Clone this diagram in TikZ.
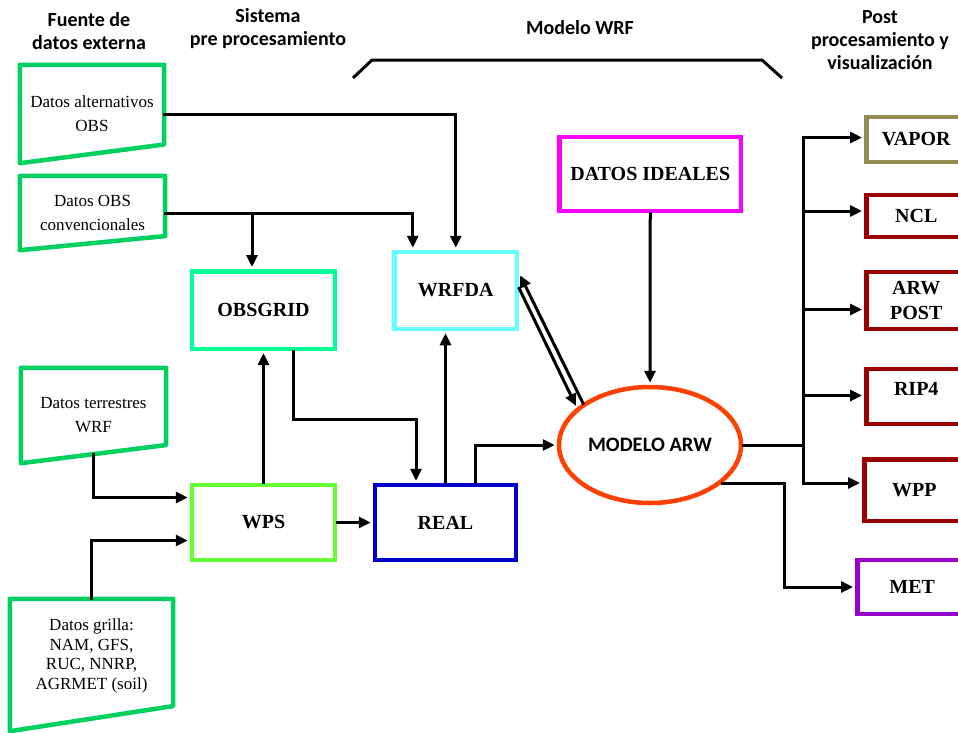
\documentclass[tikz,border=0pt]{standalone}
\usepackage{fontspec}
\setmainfont{Liberation Serif}
\newfontfamily\headfont{Carlito}
\usetikzlibrary{arrows.meta,calc,shapes.geometric}

\definecolor{srcgreen}{RGB}{0,208,96}
\definecolor{obsgreen}{RGB}{0,255,150}
\definecolor{wrfcyan}{RGB}{102,255,255}
\definecolor{wpsgreen}{RGB}{102,255,51}
\definecolor{realblue}{RGB}{0,0,204}
\definecolor{idealmag}{RGB}{255,0,255}
\definecolor{arwred}{RGB}{255,64,0}
\definecolor{vaporolive}{RGB}{148,138,84}
\definecolor{postred}{RGB}{153,0,0}
\definecolor{metpurple}{RGB}{153,0,204}

\begin{document}
\begin{tikzpicture}[
  x=1pt, y=-1pt,
  head/.style={font=\headfont\bfseries\fontsize{20}{23}\selectfont, align=center},
  src/.style={inner sep=0pt, align=center, font=\fontsize{17}{24}\selectfont},
  srcline/.style={draw=srcgreen, line width=4.5pt, line join=round},
  proc/.style={rectangle, draw=#1, line width=4.5pt, inner sep=0pt, align=center,
               font=\bfseries\fontsize{20}{25}\selectfont},
  post/.style={proc=#1, anchor=west, text width=100pt},
  link/.style={draw=black, line width=3pt, line cap=rect},
  arrow/.style={link, -{Triangle[length=12pt, width=11pt]}, shorten >=2pt},
]
\useasboundingbox (0,0) rectangle (958,732);

% ---- column headings ----
\node[head] (fuente)  at (89,31)  {Fuente de\\datos externa};
\node[head] (sistema) at (268,29) {Sistema\\pre procesamiento};
\node[head] (modelo)  at (580,28) {Modelo WRF};
\node[head] (postpro) at (880,40) {Post\\procesamiento y\\visualizaci\'on};
\draw[link, line cap=butt] (353,78) -- (372,60) -- (762,60) -- (782,78);

% ---- external data sources ----
\node[src, minimum width=144pt, minimum height=98pt] (alt) at (92,114)
      {Datos alternativos\\OBS};
\node[src, minimum width=145pt, minimum height=74pt] (conv) at (92.5,213)
      {Datos OBS\\convencionales};
\node[src, minimum width=145pt, minimum height=95pt] (terr) at (93.5,415.5)
      {Datos terrestres\\WRF};
\node[src, minimum width=163pt, minimum height=132pt, text depth=22pt,
      font=\fontsize{17}{19.5}\selectfont] (grilla) at (91.5,665)
      {Datos grilla:\\NAM, GFS,\\RUC, NNRP,\\AGRMET (soil)};
\foreach \n in {alt,conv,terr,grilla}
  \draw[srcline] (\n.north west) -- (\n.north east)
    -- ($(\n.south east)!0.19!(\n.north east)$) -- (\n.south west) -- cycle;

% ---- pre processing and model ----
\node[proc=obsgreen, minimum width=143pt, minimum height=77.5pt] (obsgrid) at (263.5,310) {OBSGRID};
\node[proc=wrfcyan, minimum width=122.5pt, minimum height=77pt] (wrfda) at (455.75,290.5) {WRFDA};
\node[proc=wpsgreen, minimum width=143pt, minimum height=75pt] (wps) at (263.5,522.5) {WPS};
\node[proc=realblue, minimum width=141pt, minimum height=75pt] (real) at (445.5,522.5) {REAL};
\node[proc=idealmag, minimum width=181.5pt, minimum height=74pt] (ideales) at (650.25,174) {DATOS IDEALES};
\node[ellipse, draw=arwred, line width=4.5pt, minimum width=182pt, minimum height=116pt,
      inner sep=0pt, font=\headfont\bfseries\fontsize{20.5}{23}\selectfont] (arw) at (650,445) {MODELO ARW};

% ---- post processing ----
\node[post=vaporolive, minimum height=45pt] (vapor) at (864,139.5) {VAPOR};
\node[post=postred, minimum height=42pt] (ncl) at (864,216) {NCL};
\node[post=postred, minimum height=57pt] (arwpost) at (864,300.5) {ARW\\POST};
\node[post=postred, minimum height=55pt, text depth=16pt] (rip4) at (864,396.5) {RIP4};
\node[post=postred, minimum height=61.5pt] (wpp) at (862,490) {WPP};
\node[post=metpurple, minimum height=54pt, text width=110pt] (met) at (855,587) {MET};

% ---- connectors ----
\draw[arrow] (alt.east) -| (wrfda.north);
\draw[arrow] (conv.east) -| ([xshift=-43pt]wrfda.north);
\draw[arrow] ([xshift=-11.5pt]obsgrid.north |- conv.east) -- ([xshift=-11.5pt]obsgrid.north);
\draw[arrow] ([xshift=29.5pt]obsgrid.south) -- ++(0,68) -| ([xshift=-29.5pt]real.north);
\draw[arrow] (wps.north) -- (obsgrid.south);
\draw[arrow] (wps.east) -- (real.west);
\draw[arrow] (real.north) -- (real.north |- wrfda.south);
\draw[arrow] ([xshift=30pt]real.north) |- (arw.west);
\draw[arrow] (arw.148) -- ([yshift=17pt]wrfda.east);
\draw[arrow] ([yshift=2pt]wrfda.east) -- (arw.153);
\draw[arrow] ([yshift=9pt]terr.south) |- ([yshift=25pt]wps.west);
\draw[arrow] (grilla.north) |- ([yshift=-18pt]wps.west);
\draw[arrow] (ideales.south) -- (arw.north);

\coordinate (split) at ($(arw.east)+(60,0)$);
\draw[link] (arw.east) -- (split);
\draw[link] ([yshift=2pt]split |- vapor.west) -- ([yshift=7pt]split |- wpp.west);
\foreach \n/\dy in {vapor/2,ncl/5,arwpost/-9,rip4/1,wpp/7}
  \draw[arrow] ([yshift=\dy pt]split |- \n.west) -- ([yshift=\dy pt]\n.west);
\draw[arrow] (arw.-28) -- ++(62,0) |- (met.west);

\end{tikzpicture}
\end{document}
